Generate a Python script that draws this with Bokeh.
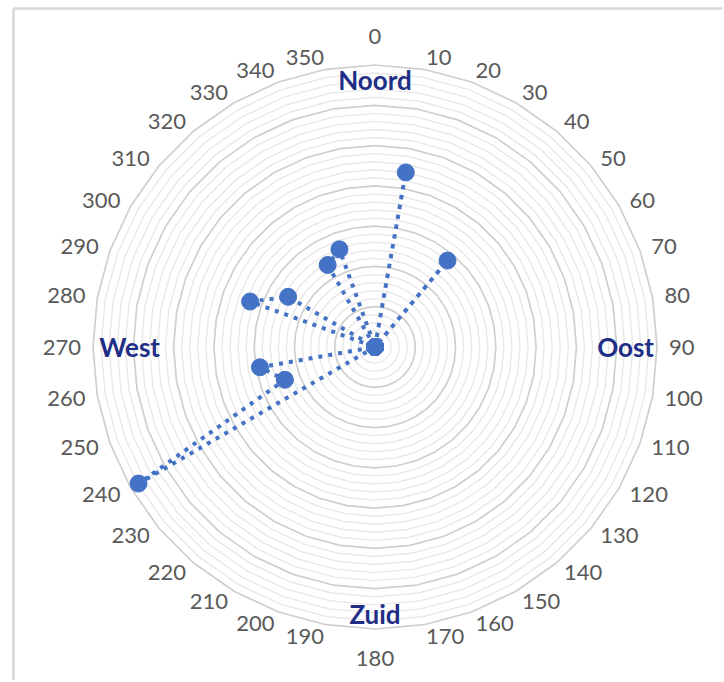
import math
from bokeh.plotting import figure
from bokeh.models import Range1d, ColumnDataSource
from bokeh.embed import file_html
from bokeh.resources import INLINE
from bokeh.core.properties import value

# ---- data ----
angles = list(range(0, 360, 10))
tick_labels = [str(a) for a in angles]
values = [0.0] * 36
values[1] = 22.0     # 10
values[4] = 14.0     # 40
values[24] = 33.9    # 240
values[25] = 11.9    # 250
values[26] = 14.5    # 260
values[29] = 16.5    # 290
values[30] = 12.45   # 300
values[33] = 11.75   # 330
values[34] = 12.9    # 340

axis_max = 35
major_step = 5
minor_step = 1

compass_labels = ["Noord", "Oost", "Zuid", "West"]
compass_bearings = [0, 90, 180, 270]
compass_radius = [33.2, 31.1, 33.1, 30.45]

# ---- geometry (pixels -> data units) ----
R_PX = 282.0
k = axis_max / R_PX
W, H = 722, 680
cx_px, cy_px = 374.5, 346.5   # centre inside figure

p = figure(width=W, height=H, output_backend="svg", toolbar_location=None,
           x_range=Range1d(-cx_px * k, (W - cx_px) * k),
           y_range=Range1d(-(H - cy_px) * k, cy_px * k),
           min_border=0)
p.axis.visible = False
p.grid.visible = False
p.outline_line_color = None
p.background_fill_color = "white"

def pol(r, deg):
    t = math.radians(deg)
    return r * math.sin(t), r * math.cos(t)

# frame (left and top border of the chart area)
fl = -(cx_px - 13) * k
ft = (cy_px - 8) * k
p.multi_line(xs=[[fl, fl], [fl, (W + 20 - cx_px) * k]],
             ys=[[-(H + 20 - cy_px) * k, ft], [ft, ft]],
             line_color="#D6D6D6", line_width=2.5)

# rings
minor_xs, minor_ys, major_xs, major_ys = [], [], [], []
r = minor_step
while r <= axis_max + 1e-9:
    pts = [pol(r, a) for a in angles + [angles[0]]]
    xs = [q[0] for q in pts]
    ys = [q[1] for q in pts]
    if abs(r / major_step - round(r / major_step)) < 1e-9:
        major_xs.append(xs); major_ys.append(ys)
    else:
        minor_xs.append(xs); minor_ys.append(ys)
    r += minor_step
p.multi_line(minor_xs, minor_ys, line_color="#E8E8E8", line_width=1.4)
p.multi_line(major_xs, major_ys, line_color="#CFCFCF", line_width=1.7)

# series
sx = [pol(v, a)[0] for v, a in zip(values, angles)]
sy = [pol(v, a)[1] for v, a in zip(values, angles)]
p.line(sx + [sx[0]], sy + [sy[0]], line_color="#4472C4", line_width=4,
       line_dash="4 6", line_cap="butt")
p.scatter(sx, sy, size=17, fill_color="#4472C4", line_color="#4472C4")

# category labels
r_side = 294 * k
r_end = 311 * k
groups = {"left": ([], [], []), "right": ([], [], []), "center": ([], [], [])}
for a, lab in zip(angles, tick_labels):
    if a in (0, 180):
        x, y = pol(r_end, a)
        g = groups["center"]
    elif a < 180:
        x, y = pol(r_side, a)
        g = groups["left"]
    else:
        x, y = pol(r_side, a)
        g = groups["right"]
    g[0].append(x); g[1].append(y); g[2].append(lab)
for align, (xs, ys, ts) in groups.items():
    p.text(x=xs, y=ys, text=ts, text_align=align, text_baseline="middle",
           text_font=value("Lato"), text_font_size="22px", text_color="#595959")

# compass labels
cxs = [pol(rr, b)[0] for rr, b in zip(compass_radius, compass_bearings)]
cys = [pol(rr, b)[1] for rr, b in zip(compass_radius, compass_bearings)]
p.text(x=cxs, y=cys, text=compass_labels, text_align="center", text_baseline="middle",
       text_font=value("Lato"), text_font_style="bold", text_font_size="26px",
       text_color="#1F2E86")

open("out.html", "w").write(file_html(p, INLINE))
